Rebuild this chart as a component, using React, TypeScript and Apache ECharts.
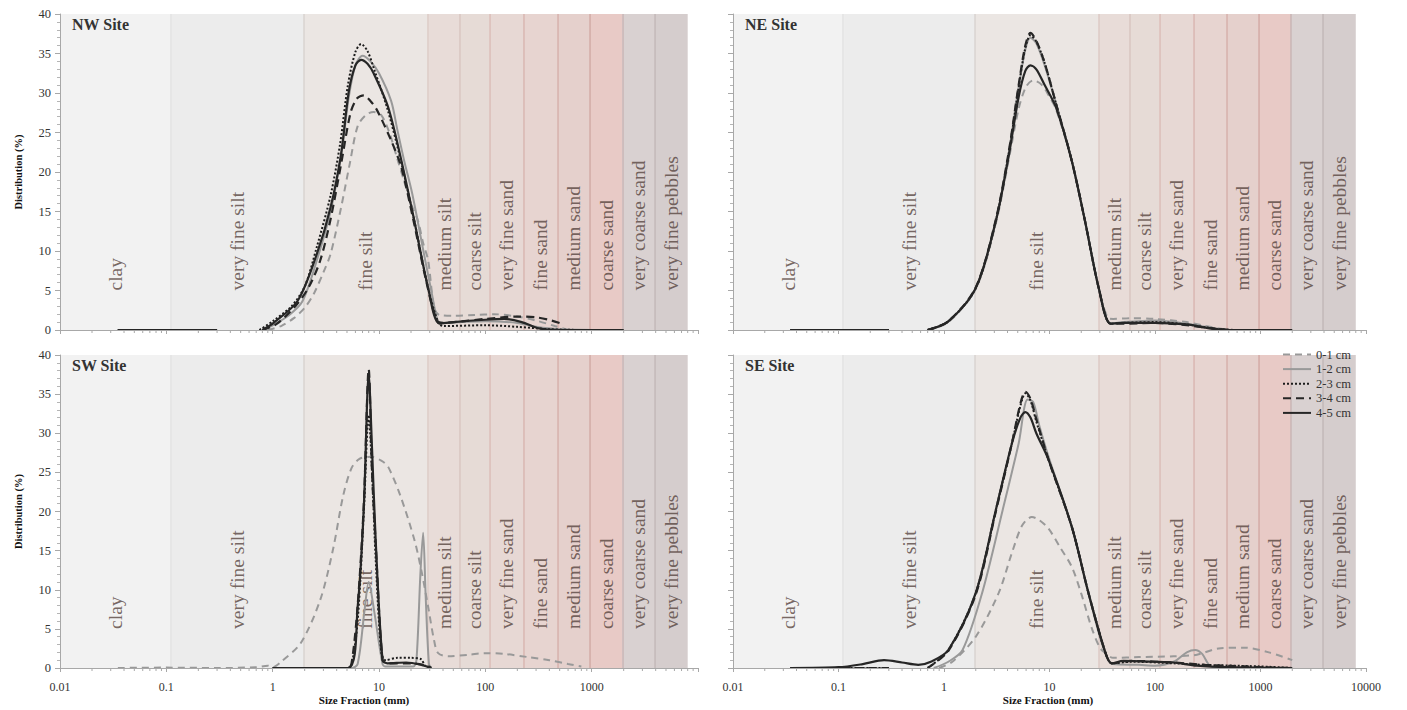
import React, { useEffect, useRef } from "react";
import * as echarts from "echarts";

const FONT = "'Liberation Serif', 'Times New Roman', serif";

// Grain-size classes
const bandNames = [
  "clay", "very fine silt", "fine silt", "medium silt", "coarse silt",
  "very fine sand", "fine sand", "medium sand", "coarse sand",
  "very coarse sand", "very fine pebbles",
];
const bandEdges = [0.01, 0.113, 1.95, 29, 58, 110, 232, 480, 960, 1950, 3900, 8000];
const bandColors = [
  "#f2f2f2", "#ececec", "#ebe6e3", "#e8dcd8", "#e6dbd6", "#e7d8d4",
  "#e7d4d0", "#e5d0cc", "#e8cac6", "#d9d1d1", "#d5cdcd",
];
const bandBorderColors = [
  "#e2e2e2", "#d9d3d0", "#dccbc6", "#d9c6c1", "#dbbdb7", "#d8b6b0",
  "#d6b1ab", "#d2aaa5", "#c9b5b5", "#c2b7b7",
];

const seriesNames = ["0-1 cm", "1-2 cm", "2-3 cm", "3-4 cm", "4-5 cm"];
const siteTitles = ["NW Site", "NE Site", "SW Site", "SE Site"];
const xTickLabels = ["0.01", "0.1", "1", "10", "100", "1000", "10000"];

type P = [number, number | null];

// ---------- NW Site ----------
const nw01: P[] = [[0.035,0],[0.3,0],[0.32,null],[0.9,0],[1.2,0.5],[1.58,1.5],[2,2.8],[2.44,4.6],[3,7.3],[3.5,9.6],[4.4,15.5],[5.3,21],[6.3,25.8],[7.5,27.2],[8.9,27.6],[10.5,27.2],[12.5,25],[15,21.5],[17.2,18.9],[20,16],[23.3,13.8],[26,11],[29,8.8],[33,2.8],[37,1.9],[50,1.8],[80,1.9],[120,2],[200,1.7],[300,1.2],[450,0.5],[600,0]];
const nw12: P[] = [[0.035,0],[0.3,0],[0.32,null],[0.8,0],[1,0.6],[1.4,1.8],[1.9,3.6],[2.6,8.8],[3.5,15],[4.4,22],[5.2,29.5],[6,33.5],[7,34.7],[8.3,34],[10,32.5],[13,29],[14.9,25.3],[17.2,21.5],[20.5,17.3],[26.5,9.6],[31,5],[35,1.5],[38,0.9],[60,1],[100,1.1],[200,0.9],[300,0.4],[500,0.1],[2000,0]];
const nw23: P[] = [[0.035,0],[0.3,0],[0.32,null],[0.75,0],[1,1.1],[1.5,3],[2,5.5],[2.6,10.5],[3.5,17],[4.3,23.5],[5.1,31],[6,35.2],[6.8,36.2],[7.8,35.3],[9,33],[12,28],[16,21.5],[21.5,13.8],[29,5.3],[36,1.0],[40,0.5],[100,0.6],[200,0.4],[400,0.1],[800,0]];
const nw34: P[] = [[0.035,0],[0.3,0],[0.32,null],[0.8,0],[1.1,0.8],[1.7,3.3],[2.2,5.5],[2.8,8.8],[3.5,14],[4.4,21],[5.4,27.5],[6.2,29.3],[7.2,29.7],[8.3,29],[9.6,27.8],[13,24],[16.2,20.6],[21,14],[28,6],[35,1.2],[40,0.9],[60,1.1],[100,1.4],[200,1.7],[300,1.6],[420,1.2],[550,0.7]];
const nw45: P[] = [[0.035,0],[0.3,0],[0.32,null],[0.8,0],[1.02,0.9],[1.72,3.7],[2.6,9.6],[3.5,15.5],[4.4,22.3],[5.2,30.2],[6,33.5],[6.8,34.2],[7.8,33.7],[8.9,32.5],[12.2,28.2],[16.2,21.5],[21.5,13.8],[29,5.3],[37,0.8],[50,1.0],[100,1.3],[150,1.4],[220,1.0],[320,0.2],[500,0],[2000,0]];

// ---------- NE Site ----------
const ne01: P[] = [[0.035,0],[0.3,0],[0.32,null],[0.7,0],[1.1,1.0],[2,5.2],[3.1,13.5],[4.1,21.5],[5.1,28],[6,30.8],[7,31.6],[8.5,31],[10,29.5],[11.5,28],[16.2,21.5],[21.7,13.8],[29.3,5.3],[36,1.5],[40,1.4],[60,1.5],[100,1.4],[200,1.0],[300,0.5],[500,0]];
const ne12: P[] = [[0.035,0],[0.3,0],[0.32,null],[0.7,0],[1.1,1.1],[2,5.3],[3.1,13.8],[4.1,22.3],[5.1,30.7],[5.9,35.5],[6.6,37],[7.5,36.3],[9,33.5],[11.5,28.7],[16.2,21.5],[21.7,13.8],[29.3,5.3],[38,0.8],[50,1.0],[100,1.2],[200,0.8],[400,0.1],[600,0]];
const ne23: P[] = [[0.035,0],[0.3,0],[0.32,null],[0.7,0],[1.1,1.1],[2,5.3],[3.1,13.8],[4.1,22.3],[5.1,30.7],[5.9,35.7],[6.6,37.3],[7.5,36.5],[9,33.8],[11.5,28.7],[16.2,21.5],[21.7,13.8],[29.3,5.3],[38,0.8],[50,0.9],[100,1.0],[200,0.7],[400,0.1],[600,0]];
const ne34: P[] = [[0.035,0],[0.3,0],[0.32,null],[0.7,0],[1.1,1.1],[2,5.4],[3.1,14],[4.1,22.5],[5.1,31],[5.9,36],[6.6,37.6],[7.5,36.6],[9,33.8],[11.5,28.7],[16.2,21.5],[21.7,13.8],[29.3,5.3],[38,0.8],[50,0.8],[100,0.9],[200,0.6],[300,0.3],[500,0]];
const ne45: P[] = [[0.035,0],[0.3,0],[0.32,null],[0.7,0],[1.1,1.1],[2,5.3],[3.1,13.8],[4.1,22],[5.1,29.5],[5.9,32.8],[6.6,33.5],[7.5,33],[9,31],[11.5,28.2],[16.2,21.5],[21.7,13.8],[29.3,5.3],[38,0.8],[50,0.9],[100,0.9],[200,0.7],[300,0.3],[500,0],[2000,0]];

// ---------- SW Site ----------
const sw01: P[] = [[0.035,0],[0.1,0.05],[0.3,0],[0.7,0.1],[0.9,0.3],[1.0,0.1],[1.2,0.8],[1.84,3.2],[2.8,8.7],[3.7,15.2],[4.6,22],[5.5,25.5],[6.5,26.7],[8.4,27],[10.5,26.5],[12.2,25.7],[16,21.9],[21.5,16.4],[25,12.5],[29,7.8],[33,3.5],[36,1.9],[45,1.5],[70,1.7],[100,1.9],[150,1.8],[250,1.4],[400,1.0],[600,0.5],[800,0.2]];
const sw12: P[] = [[1,0],[5.5,0],[6.3,0.5],[7.3,7.3],[8.0,11],[9,7.3],[10.8,0.5],[11.5,0.2],[21,0.2],[22.5,1],[24.5,12],[26,17.3],[27.5,9],[29.5,0.5],[31,0]];
const sw23: P[] = [[1,0],[5,0],[5.5,0.3],[6.3,6],[7.2,20],[8,32.3],[8.6,25],[9.3,14],[10.5,2],[11.5,1.0],[15,1.3],[20,1.3],[25,1.1],[27,0.3],[30,0]];
const sw34: P[] = [[1,0],[5,0],[5.5,0.5],[6.3,8],[7.2,21],[8,38.2],[8.6,25],[9.3,16],[10.8,1.0],[12,0.6],[20,0.6],[28,0.3],[31,0]];
const sw45: P[] = [[1,0],[5.1,0],[6.3,7.8],[7.2,20.6],[8,37.5],[8.6,28],[9.3,16.4],[10.8,1.0],[12,0.6],[18,0.7],[25,0.4],[31,0]];

// ---------- SE Site ----------
const se01: P[] = [[0.9,0],[1.2,0.8],[2,4],[3.3,9.6],[4.4,14.7],[5.5,18.2],[6.8,19.3],[8,18.9],[9.8,17.8],[12.5,15.5],[16.3,12.9],[20,9.5],[25,5.2],[30,2.6],[34,1.9],[40,1.3],[70,1.4],[150,1.5],[250,1.7],[400,2.5],[700,2.6],[1200,2.0],[2000,1.0]];
const se12: P[] = [[0.035,0],[0.3,0],[0.32,null],[0.8,0],[1.1,0.8],[1.5,2.3],[2.3,9.6],[3.6,20.2],[5.1,28.7],[6.2,34.3],[7,34],[8,31],[9.8,27],[16.3,18],[23.4,9.6],[30,4],[36,1],[40,0.5],[70,0.4],[100,0.3],[150,0.8],[200,2.0],[240,2.3],[280,1.8],[330,0.3],[400,0]];
const se23: P[] = [[0.035,0],[0.3,0],[0.32,null],[0.7,0],[1.1,2.3],[2,9.6],[3.1,20.2],[4.4,28.7],[5.3,33.5],[5.9,35.1],[6.6,34.2],[7.5,31.5],[9.8,26.6],[16.3,18],[23.4,9.6],[34,1.9],[39,0.6],[60,0.8],[150,0.6],[300,0.4],[1000,0.2],[2000,0]];
const se34: P[] = [[0.035,0],[0.3,0],[0.32,null],[0.7,0],[1.1,2.2],[2,9.4],[3.1,20],[4.4,28.7],[5.3,33.8],[5.9,35.3],[6.6,34.4],[7.5,31.8],[9.8,26.6],[16.3,18],[23.4,9.6],[34,1.9],[39,0.6],[60,0.9],[150,0.7],[300,0.4],[700,0.2],[1000,0.1],[2000,0]];
const se45: P[] = [[0.035,0],[0.1,0.1],[0.17,0.5],[0.27,1.0],[0.4,0.7],[0.57,0.4],[0.75,0.8],[1.1,2.3],[2,9.6],[3.1,20.2],[4.4,28.7],[5.3,32],[5.9,32.7],[6.6,32],[7.5,30],[9.8,26.6],[16.3,18],[23.4,9.6],[34,1.9],[39,0.6],[50,0.9],[100,0.8],[150,0.7],[250,0.3],[500,0.1],[2000,0]];

const panels: P[][][] = [
  [nw01, nw12, nw23, nw34, nw45],
  [ne01, ne12, ne23, ne34, ne45],
  [sw01, sw12, sw23, sw34, sw45],
  [se01, se12, se23, se34, se45],
];

const lineStyles = [
  { color: "#999999", width: 2, type: [7, 5] },
  { color: "#999999", width: 2, type: "solid" },
  { color: "#1c1c1c", width: 2, type: [2, 2] },
  { color: "#262626", width: 2.2, type: [8, 5] },
  { color: "#262626", width: 2.2, type: "solid" },
];

const grids = [
  { left: 60, top: 14, width: 638, height: 316 },
  { left: 733, top: 14, width: 633, height: 316 },
  { left: 60, top: 355, width: 638, height: 313 },
  { left: 733, top: 355, width: 633, height: 313 },
];

const minorVals: number[] = [];
for (let k = -2; k <= 3; k++) for (let m = 2; m <= 9; m++) minorVals.push(m * Math.pow(10, k));

function fmtX(v: number) {
  const s = v >= 1 ? String(Math.round(v)) : String(+v.toPrecision(2));
  return xTickLabels.indexOf(s) >= 0 ? s : "";
}

export default function App() {
  const ref = useRef<HTMLDivElement>(null);
  useEffect(() => {
    if (!ref.current) return;
    const chart = echarts.init(ref.current, undefined, { renderer: "svg" });
    const series: any[] = [];
    const xAxes: any[] = [];
    const yAxes: any[] = [];
    grids.forEach((_, g) => {
      const isLeft = g % 2 === 0;
      const isBottom = g >= 2;
      xAxes.push({
        type: "log", logBase: 10, gridIndex: g, min: 0.01, max: 10000,
        axisLine: { show: true, lineStyle: { color: "#a8a8a8", width: 1 } },
        axisTick: { show: true, length: 4, lineStyle: { color: "#a8a8a8" } },
        splitLine: { show: false },
        axisLabel: {
          show: isBottom, fontFamily: FONT, fontSize: 12, color: "#333", margin: 13,
          formatter: (v: number) => {
            const s = fmtX(v);
            if (isLeft && s === "10000") return "";
            return s;
          },
        },
        z: 20,
      });
      yAxes.push({
        type: "value", gridIndex: g, min: 0, max: 40, interval: 5,
        axisLine: { show: true, lineStyle: { color: "#a8a8a8" } },
        axisTick: { show: true, length: 5, lineStyle: { color: "#a8a8a8" } },
        minorTick: { show: true, splitNumber: 5, length: 3, lineStyle: { color: "#b5b5b5" } },
        splitLine: { show: false },
        axisLabel: { show: isLeft, fontFamily: FONT, fontSize: 12.5, color: "#333", margin: 9 },
        name: isLeft ? "Distribution (%)" : "",
        nameLocation: "middle", nameGap: 36,
        nameTextStyle: { fontFamily: FONT, fontWeight: "bold", fontSize: 10.5, color: "#111" },
        z: 20,
      });
      // bands + labels
      series.push({
        type: "scatter", name: "bands" + g, xAxisIndex: g, yAxisIndex: g, silent: true, z: 1,
        symbolSize: 0,
        data: bandNames.map((n, i) => ({
          name: n, value: [Math.sqrt(bandEdges[i] * bandEdges[i + 1]), 5],
        })),
        label: {
          show: true, formatter: "{b}", position: "right", distance: 0, rotate: 90,
          align: "left", verticalAlign: "middle",
          fontFamily: FONT, fontSize: 19.5, color: "#56433d",
        },
        markArea: {
          silent: true, z: 0,
          data: bandNames.map((_, i) => [
            { xAxis: bandEdges[i], itemStyle: { color: bandColors[i] } },
            { xAxis: bandEdges[i + 1] },
          ]),
        },
        markLine: {
          silent: true, symbol: ["none", "none"], label: { show: false }, z: 1,
          data: bandBorderColors.map((c, i) => ({
            xAxis: bandEdges[i + 1], lineStyle: { color: c, width: 1.5, type: "solid" },
          })),
        },
      });
      // minor ticks on log x axis
      series.push({
        type: "custom", name: "minor" + g, xAxisIndex: g, yAxisIndex: g, silent: true, clip: false, z: 21,
        data: minorVals.map((v) => [v, 0]),
        renderItem: (params: any, api: any) => {
          const p = api.coord([api.value(0), 0]);
          return {
            type: "line",
            shape: { x1: p[0], y1: p[1], x2: p[0], y2: p[1] + 3 },
            style: { stroke: "#a8a8a8", lineWidth: 1 },
          };
        },
      });
      panels[g].forEach((d, k) => {
        series.push({
          type: "line", name: seriesNames[k], xAxisIndex: g, yAxisIndex: g,
          data: d, symbol: "none", smooth: 0.3, z: 10,
          lineStyle: lineStyles[k], itemStyle: { color: lineStyles[k].color },
        });
      });
    });

    chart.setOption({
      animation: false,
      backgroundColor: "#ffffff",
      grid: grids,
      xAxis: xAxes,
      yAxis: yAxes,
      title: siteTitles.map((t, i) => ({
        text: t, left: grids[i].left + 12, top: grids[i].top + 2, padding: 0,
        textStyle: { fontFamily: FONT, fontSize: 16, fontWeight: "bold", color: "#333" },
      })),
      legend: {
        data: seriesNames, orient: "vertical", left: 1282, top: 348,
        itemWidth: 28, itemHeight: 10, itemGap: 1.6, padding: 0,
        itemStyle: { color: "rgba(0,0,0,0)", borderColor: "rgba(0,0,0,0)", borderWidth: 0, opacity: 0 },
        textStyle: { fontFamily: FONT, fontSize: 12.5, color: "#333", padding: [0, 0, 0, 0] },
        selectedMode: false,
      },
      graphic: [
        { type: "text", x: 364, y: 700, style: { text: "Size Fraction (mm)", fontFamily: FONT, fontWeight: "bold", fontSize: 11, fill: "#111", align: "center", verticalAlign: "middle" } },
        { type: "text", x: 1048, y: 700, style: { text: "Size Fraction (mm)", fontFamily: FONT, fontWeight: "bold", fontSize: 11, fill: "#111", align: "center", verticalAlign: "middle" } },
      ],
      series,
    });
    return () => chart.dispose();
  }, []);
  return (
    <div
      ref={ref}
      style={{ position: "fixed", left: 0, top: 0, width: 1407, height: 710, background: "#fff" }}
    />
  );
}
